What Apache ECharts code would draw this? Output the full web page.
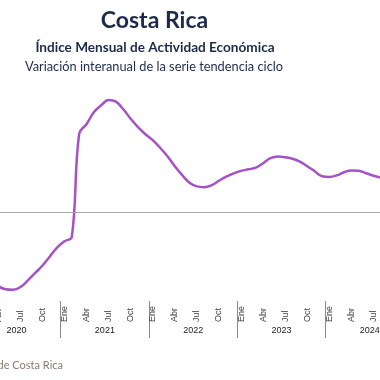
<!DOCTYPE html>
<html>
<head>
<meta charset="utf-8">
<script src="https://cdn.jsdelivr.net/npm/echarts@6/dist/echarts.min.js"></script>
<style>html,body{margin:0;padding:0;background:#fff;}#c{width:380px;height:380px;}</style>
</head>
<body>
<div id="c"></div>
<script>
const years = ['2020', '2021', '2022', '2023', '2024'];
const monthNames = ['Ene', 'Feb', 'Mar', 'Abr', 'May', 'Jun', 'Jul', 'Ago', 'Set', 'Oct', 'Nov', 'Dic'];
const shownMonths = ['Ene', 'Abr', 'Jul', 'Oct'];
// Variación interanual (%) de la serie tendencia ciclo, ene-2020 ... ago-2024
const values2020 = [2.3, 1.6, -5.0, -8.6, -9.08, -9.14, -8.85, -8.08, -7.2, -6.32, -5.26, -4.2];
const values2021 = [-3.44, -2.96, 9.2, 10.33, 11.74, 12.56, 13.18, 12.98, 12.09, 10.98, 9.98, 9.15];
const values2022 = [8.45, 7.56, 6.56, 5.39, 4.33, 3.45, 3.01, 2.92, 3.15, 3.68, 4.15, 4.54];
const values2023 = [4.84, 5.02, 5.21, 5.74, 6.33, 6.54, 6.44, 6.27, 5.92, 5.39, 4.8, 4.21];
const values2024 = [4.13, 4.31, 4.68, 4.89, 4.86, 4.56, 4.27, 4.04];

const titleText = 'Costa Rica';
const subtitle1 = 'Índice Mensual de Actividad Económica';
const subtitle2 = 'Variación interanual de la serie tendencia ciclo';
const sourceText = 'Fuente: Banco Central de Costa Rica';

const categories = [];
years.forEach(y => monthNames.forEach(m => categories.push(m + ' ' + y)));
const values = [].concat(values2020, values2021, values2022, values2023, values2024);

const chart = echarts.init(document.getElementById('c'), null, {renderer: 'canvas'});
const navy = '#1c2b4a';
chart.setOption({
  animation: false,
  backgroundColor: '#ffffff',
  title: [
    {text: titleText, left: 149.5, top: 4, textAlign: 'center',
     textStyle: {fontFamily: 'Lato', fontWeight: 'bold', fontSize: 23, color: navy}},
    {text: subtitle1, left: 150, top: 36, textAlign: 'center',
     textStyle: {fontFamily: 'Lato', fontWeight: 'bold', fontSize: 13.6, color: navy}},
    {text: subtitle2, left: 149, top: 55, textAlign: 'center',
     textStyle: {fontFamily: 'Lato', fontWeight: 'normal', fontSize: 12.8, color: navy}}
  ],
  graphic: [
    {type: 'text', x: 63, y: 360, style: {text: sourceText, align: 'right', fill: '#8a7d70',
      font: '11px Lato'}}
  ],
  grid: {left: -27.6, width: 441.6, top: 93, bottom: 83, containLabel: false, outerBoundsMode: 'none'},
  xAxis: [
    {type: 'category', data: categories, boundaryGap: true, position: 'bottom',
     axisLine: {show: false}, axisTick: {show: false},
     axisLabel: {interval: 0, rotate: 90, align: 'left', verticalAlign: 'middle', margin: 25,
       fontSize: 9, color: '#404040', fontFamily: 'Liberation Sans',
       formatter: v => { const m = v.split(' ')[0]; return shownMonths.includes(m) ? m : ''; }}},
    {type: 'category', data: years, boundaryGap: true, position: 'bottom', offset: 4,
     axisLine: {show: false},
     axisTick: {show: true, length: 37, lineStyle: {color: '#8a8a8a', width: 1}},
     axisLabel: {margin: 25, fontSize: 9, color: '#222', fontFamily: 'Liberation Sans'}}
  ],
  yAxis: {type: 'value', min: -10, max: 14, show: false, splitLine: {show: false}},
  series: [{
    type: 'line', data: values, xAxisIndex: 0, smooth: 0.4, symbol: 'none',
    lineStyle: {color: '#a452c6', width: 2.5},
    markLine: {silent: true, symbol: 'none', label: {show: false},
      lineStyle: {color: '#a8a8a8', type: 'solid', width: 1},
      data: [{yAxis: 0}]}
  }]
});
</script>
</body>
</html>
